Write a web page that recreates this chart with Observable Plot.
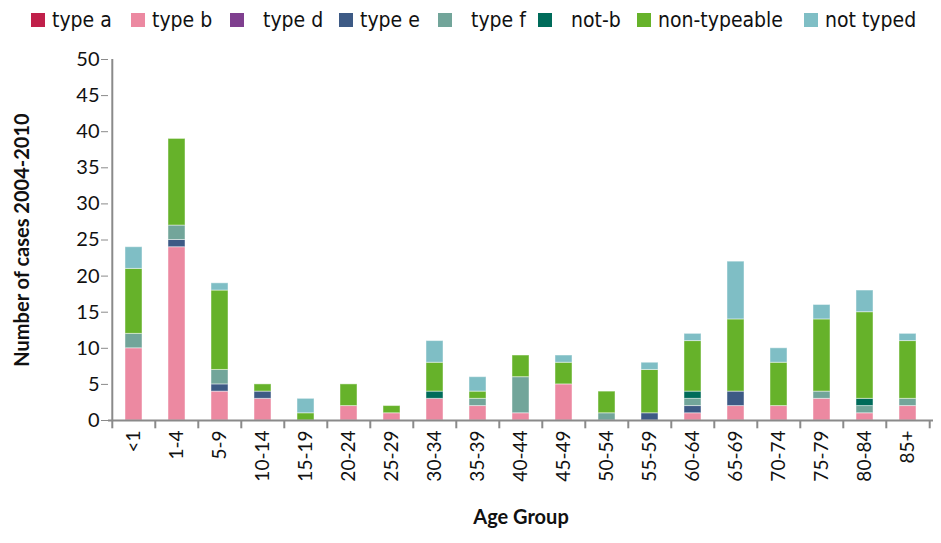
<!DOCTYPE html>
<html>
<head>
<meta charset="utf-8">
<script src="https://cdn.jsdelivr.net/npm/d3@7"></script>
<script src="https://cdn.jsdelivr.net/npm/@observablehq/plot@0.6"></script>
<style>
  html, body { margin: 0; padding: 0; background: #fff; }
  #chart { width: 941px; }
  .legend { position: relative; height: 40px; font-family: "DejaVu Sans Condensed", "Liberation Sans Narrow", sans-serif; font-size: 21px; color: #111; }
  .legend .item { position: absolute; top: 8px; display: flex; align-items: center; white-space: pre; }
  .legend .sw { width: 14px; height: 14px; margin-right: 7px; }
</style>
</head>
<body>
<div id="chart"></div>
<script>
const ageGroups = ["<1","1-4","5-9","10-14","15-19","20-24","25-29","30-34","35-39","40-44","45-49","50-54","55-59","60-64","65-69","70-74","75-79","80-84","85+"];
const seriesNames = ["type a","type b","type d","type e","type f","not-b","non-typeable","not typed"];
const seriesColors = ["#C0204A","#EC89A1","#7F3F8F","#3D5A85","#72A59A","#006B5A","#66B22A","#7FBEC5"];
const typeA       = [0,0,0,0,0,0,0,0,0,0,0,0,0,0,0,0,0,0,0];
const typeB       = [10,24,4,3,0,2,1,3,2,1,5,0,0,1,2,2,3,1,2];
const typeD       = [0,0,0,0,0,0,0,0,0,0,0,0,0,0,0,0,0,0,0];
const typeE       = [0,1,1,1,0,0,0,0,0,0,0,0,1,1,2,0,0,0,0];
const typeF       = [2,2,2,0,0,0,0,0,1,5,0,1,0,1,0,0,1,1,1];
const notB        = [0,0,0,0,0,0,0,1,0,0,0,0,0,1,0,0,0,1,0];
const nonTypeable = [9,12,11,1,1,3,1,4,1,3,3,3,6,7,10,6,10,12,8];
const notTyped    = [3,0,1,0,2,0,0,3,2,0,1,0,1,1,8,2,2,3,1];
const yTicks = [0,5,10,15,20,25,30,35,40,45,50];

const seriesValues = [typeA, typeB, typeD, typeE, typeF, notB, nonTypeable, notTyped];
const rows = [];
seriesNames.forEach((s, si) => ageGroups.forEach((g, gi) => {
  rows.push({group: g, series: s, value: seriesValues[si][gi]});
}));

// Legend
const legendX = [31, 131, 230, 339, 438, 538, 637, 804];
const legendPre = ["", "", "  ", "", "  ", "  ", "", ""];
const legend = document.createElement("div");
legend.className = "legend";
seriesNames.forEach((s, i) => {
  const it = document.createElement("div");
  it.className = "item";
  it.style.left = legendX[i] + "px";
  const sw = document.createElement("span");
  sw.className = "sw";
  sw.style.background = seriesColors[i];
  const tx = document.createElement("span");
  tx.textContent = legendPre[i] + s;
  it.appendChild(sw); it.appendChild(tx);
  legend.appendChild(it);
});
document.getElementById("chart").appendChild(legend);

const W = 941, H = 503, ML = 108, MR = 8, MT = 19, MB = 123;
const step = (W - ML - MR) / ageGroups.length;
const axisColor = "#8a8a8a";

const plot = Plot.plot({
  width: W, height: H,
  marginLeft: ML, marginRight: MR, marginTop: MT, marginBottom: MB,
  style: {fontFamily: "Lato, 'Open Sans', sans-serif", fontSize: "20px", color: "#111", background: "white"},
  x: {domain: ageGroups, paddingInner: 0.6, paddingOuter: 0.3, label: null},
  y: {domain: [0, 50], label: null},
  color: {domain: seriesNames, range: seriesColors},
  marks: [
    Plot.barY(rows, {x: "group", y: "value", fill: "series", order: seriesNames, stroke: "white", strokeOpacity: 0.45, strokeWidth: 1}),
    Plot.axisY({ticks: yTicks, tickSize: 7, tickPadding: 2, stroke: axisColor, fontSize: 20, label: null}),
    Plot.axisX({tickSize: 0, tickPadding: 10, tickRotate: -90, fontSize: 19, label: null}),
    Plot.ruleX([0], {x: () => ageGroups[0], dx: -step / 2, y1: 0, y2: 50, stroke: axisColor, strokeWidth: 2}),
    Plot.ruleY([0], {stroke: axisColor, strokeWidth: 2}),
    Plot.ruleX(ageGroups, {x: d => d, dx: -step / 2, y1: 0, y2: -1.15, stroke: axisColor, strokeWidth: 2}),
    Plot.ruleX([ageGroups[ageGroups.length - 1]], {x: d => d, dx: step / 2, y1: 0, y2: -1.15, stroke: axisColor, strokeWidth: 2}),
    Plot.text(["Number of cases 2004-2010"], {frameAnchor: "left", textAnchor: "middle", dx: -86, rotate: -90, fontWeight: "bold", fontSize: 20, fill: "#111"}),
    Plot.text(["Age Group"], {frameAnchor: "bottom", dy: 103, fontWeight: "bold", fontSize: 20, fill: "#111"})
  ]
});
document.getElementById("chart").appendChild(plot);
</script>
</body>
</html>
